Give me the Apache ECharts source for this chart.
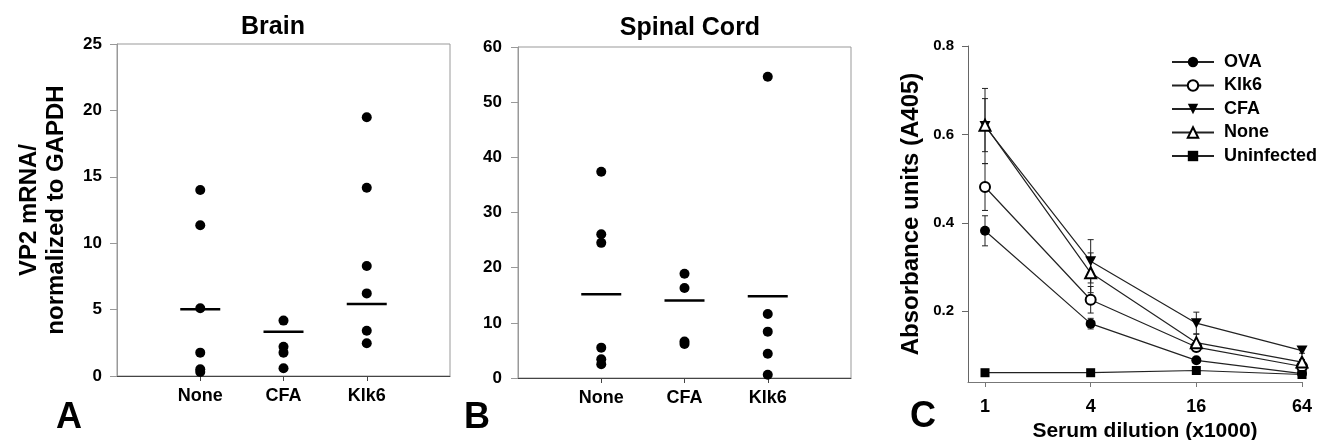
<!DOCTYPE html>
<html>
<head>
<meta charset="utf-8">
<title>VP2 mRNA and serum absorbance</title>
<script src="https://cdn.jsdelivr.net/npm/echarts@6/dist/echarts.min.js"></script>
<style>
  html, body { margin: 0; padding: 0; background: #fff; }
  #chart { width: 1320px; height: 440px; }
</style>
</head>
<body>
<div id="chart"></div>
<script>
// Groups shown on panels A and B
const categories = ['None', 'CFA', 'Klk6'];

// Panel A: brain VP2 mRNA normalized to GAPDH
const brainNone = [14.0, 11.35, 5.1, 1.76, 0.5, 0.3];
const brainCFA = [4.17, 2.2, 1.76, 0.58];
const brainKlk6 = [19.48, 14.18, 8.28, 6.22, 3.41, 2.46];
const brainMeans = [5.02, 3.34, 5.42];
const brainTicks = [0, 5, 10, 15, 20, 25];

// Panel B: spinal cord VP2 mRNA normalized to GAPDH
const spinalNone = [37.4, 26.05, 24.5, 5.5, 3.4, 2.5];
const spinalCFA = [18.9, 16.3, 6.6, 6.15];
const spinalKlk6 = [54.6, 11.6, 8.4, 4.4, 0.6];
const spinalMeans = [15.2, 14.05, 14.8];
const spinalTicks = [0, 10, 20, 30, 40, 50, 60];

// Panel C: serum absorbance (A405) against dilution (x1000)
const dilutions = [1, 4, 16, 64];
const absTicks = [0.2, 0.4, 0.6, 0.8];
const ovaAbs = [0.382, 0.172, 0.089, 0.059];
const ovaErr = [0.034, 0.012, 0.006, 0.004];
const klk6Abs = [0.481, 0.226, 0.119, 0.075];
const klk6Err = [0.053, 0.03, 0.01, 0.005];
const cfaAbs = [0.619, 0.313, 0.173, 0.111];
const cfaErr = [0.085, 0.049, 0.025, 0.006];
const noneAbs = [0.621, 0.287, 0.129, 0.085];
const noneErr = [0.06, 0.045, 0.02, 0.006];
const uninfectedAbs = [0.061, 0.061, 0.066, 0.057];
const uninfectedErr = [0.002, 0.002, 0.003, 0.002];

const FONT = '"Liberation Sans", Arial, Helvetica, sans-serif';
const INK = '#000';
const FRAME = '#999';

const paddedCats = [''].concat(categories, ['']);
const isCat = (i, v) => v !== '';

function pairs(cat, values) { return values.map(v => [cat, v]); }

function dotSeries(idx, groups) {
  const data = [];
  categories.forEach((c, i) => { data.push(...pairs(c, groups[i])); });
  return {
    type: 'scatter', xAxisIndex: idx, yAxisIndex: idx, data,
    symbol: 'circle', symbolSize: 10, z: 3,
    itemStyle: { color: INK, opacity: 1 }, silent: true
  };
}

function meanSeries(idx, means) {
  return {
    type: 'scatter', xAxisIndex: idx, yAxisIndex: idx,
    data: categories.map((c, i) => [c, means[i]]),
    symbol: 'rect', symbolSize: [40, 2.5], z: 2,
    itemStyle: { color: INK, opacity: 1 }, silent: true
  };
}

function catXAxis(idx) {
  return {
    type: 'category', gridIndex: idx, data: paddedCats, boundaryGap: false,
    axisLine: { lineStyle: { color: '#444', width: 1 } },
    axisTick: { show: true, interval: isCat, length: 5, lineStyle: { color: '#444' } },
    axisLabel: { interval: 0, margin: 11, color: INK, fontFamily: FONT, fontWeight: 'bold', fontSize: 18 },
    splitLine: { show: false }
  };
}

function valYAxis(idx, ticks, margin) {
  return {
    type: 'value', gridIndex: idx, min: ticks[0], max: ticks[ticks.length - 1],
    interval: ticks[1] - ticks[0],
    axisLine: { show: true, lineStyle: { color: FRAME, width: 1 } },
    axisTick: { show: true, length: 7, lineStyle: { color: FRAME } },
    axisLabel: { margin, color: INK, fontFamily: FONT, fontWeight: 'bold', fontSize: 17 },
    splitLine: { show: false }
  };
}

const curveStyle = { color: '#222', width: 1.2 };

function curve(name, values, symbol, size) {
  return {
    type: 'line', name, xAxisIndex: 2, yAxisIndex: 2,
    data: dilutions.map((d, i) => [d, values[i]]),
    symbol, symbolSize: size, showSymbol: true, z: 3,
    itemStyle: { color: INK, borderWidth: 1.2 },
    lineStyle: curveStyle, silent: true
  };
}

function errorBars(values, errs) {
  return {
    type: 'custom', xAxisIndex: 2, yAxisIndex: 2, z: 1, silent: true,
    data: dilutions.map((d, i) => [d, values[i], errs[i]]),
    encode: { x: 0, y: 1 },
    renderItem(params, api) {
      const x = api.value(0), y = api.value(1), e = api.value(2);
      const hi = api.coord([x, y + e]);
      const lo = api.coord([x, y - e]);
      const st = { stroke: '#222', lineWidth: 1 };
      return {
        type: 'group', children: [
          { type: 'line', shape: { x1: hi[0], y1: hi[1], x2: lo[0], y2: lo[1] }, style: st },
          { type: 'line', shape: { x1: hi[0] - 3, y1: hi[1], x2: hi[0] + 3, y2: hi[1] }, style: st },
          { type: 'line', shape: { x1: lo[0] - 3, y1: lo[1], x2: lo[0] + 3, y2: lo[1] }, style: st }
        ]
      };
    }
  };
}

const downTriangle = 'path://M0,0L10,0L5,9Z';

function label(text, x, y, size) {
  return {
    type: 'text', x, y, silent: true,
    style: { text, fill: INK, font: 'bold ' + size + 'px ' + FONT, textAlign: 'center', textVerticalAlign: 'middle' }
  };
}

const option = {
  animation: false,
  backgroundColor: '#fff',
  textStyle: { fontFamily: FONT },
  grid: [
    { left: 117, top: 44, width: 333, height: 332, show: true, borderColor: FRAME, borderWidth: 1, backgroundColor: 'transparent', outerBoundsMode: 'none' },
    { left: 518, top: 47, width: 333, height: 331, show: true, borderColor: FRAME, borderWidth: 1, backgroundColor: 'transparent', outerBoundsMode: 'none' },
    { left: 968, top: 46, width: 334, height: 336, outerBoundsMode: 'none' }
  ],
  xAxis: [
    catXAxis(0),
    catXAxis(1),
    {
      type: 'log', logBase: 4, gridIndex: 2, min: 0.8, max: 64,
      name: 'Serum dilution (x1000)', nameLocation: 'middle', nameGap: 37,
      nameTextStyle: { color: INK, fontFamily: FONT, fontWeight: 'bold', fontSize: 21, padding: [0, 0, 0, 20] },
      axisLine: { lineStyle: { color: '#777', width: 1 } },
      axisTick: { show: true, length: 5, customValues: dilutions, lineStyle: { color: '#777' } },
      axisLabel: { customValues: dilutions, margin: 16, color: INK, fontFamily: FONT, fontWeight: 'bold', fontSize: 18 },
      splitLine: { show: false }, minorTick: { show: false }
    }
  ],
  yAxis: [
    Object.assign(valYAxis(0, brainTicks, 15), {
      name: 'VP2 mRNA/\nnormalized to GAPDH', nameLocation: 'middle', nameGap: 47,
      nameTextStyle: { color: INK, fontFamily: FONT, fontWeight: 'bold', fontSize: 24, lineHeight: 27 }
    }),
    valYAxis(1, spinalTicks, 16),
    {
      type: 'value', gridIndex: 2, min: 0.04, max: 0.8,
      name: 'Absorbance units (A405)', nameLocation: 'middle', nameGap: 45,
      nameTextStyle: { color: INK, fontFamily: FONT, fontWeight: 'bold', fontSize: 24 },
      axisLine: { show: true, lineStyle: { color: '#666', width: 1 } },
      axisTick: { show: true, length: 6, customValues: absTicks, lineStyle: { color: '#666' } },
      axisLabel: { customValues: absTicks, margin: 14, color: INK, fontFamily: FONT, fontWeight: 'bold', fontSize: 15, formatter: v => v.toFixed(1) },
      splitLine: { show: false }
    }
  ],
  legend: {
    orient: 'vertical', left: 1171, top: 53, padding: 0,
    itemWidth: 42, itemHeight: 13, itemGap: 5.5,
    data: ['OVA', 'Klk6', 'CFA', 'None', 'Uninfected'],
    textStyle: { color: INK, fontFamily: FONT, fontWeight: 'bold', fontSize: 18, padding: [0, 0, 0, 5] },
    selectedMode: false
  },
  graphic: [
    label('Brain', 273, 27, 25),
    label('Spinal Cord', 690, 28, 25),
    label('A', 69, 418, 36),
    label('B', 477, 418, 36),
    label('C', 923, 417, 36)
  ],
  series: [
    meanSeries(0, brainMeans),
    dotSeries(0, [brainNone, brainCFA, brainKlk6]),
    meanSeries(1, spinalMeans),
    dotSeries(1, [spinalNone, spinalCFA, spinalKlk6]),
    errorBars(ovaAbs, ovaErr),
    errorBars(klk6Abs, klk6Err),
    errorBars(cfaAbs, cfaErr),
    errorBars(noneAbs, noneErr),
    errorBars(uninfectedAbs, uninfectedErr),
    curve('OVA', ovaAbs, 'circle', 10),
    curve('Klk6', klk6Abs, 'emptyCircle', 10),
    curve('CFA', cfaAbs, downTriangle, [11, 10]),
    curve('None', noneAbs, 'emptyTriangle', 11),
    curve('Uninfected', uninfectedAbs, 'rect', 9)
  ]
};

const chart = echarts.init(document.getElementById('chart'), null, { renderer: 'canvas' });
chart.setOption(option);
</script>
</body>
</html>
